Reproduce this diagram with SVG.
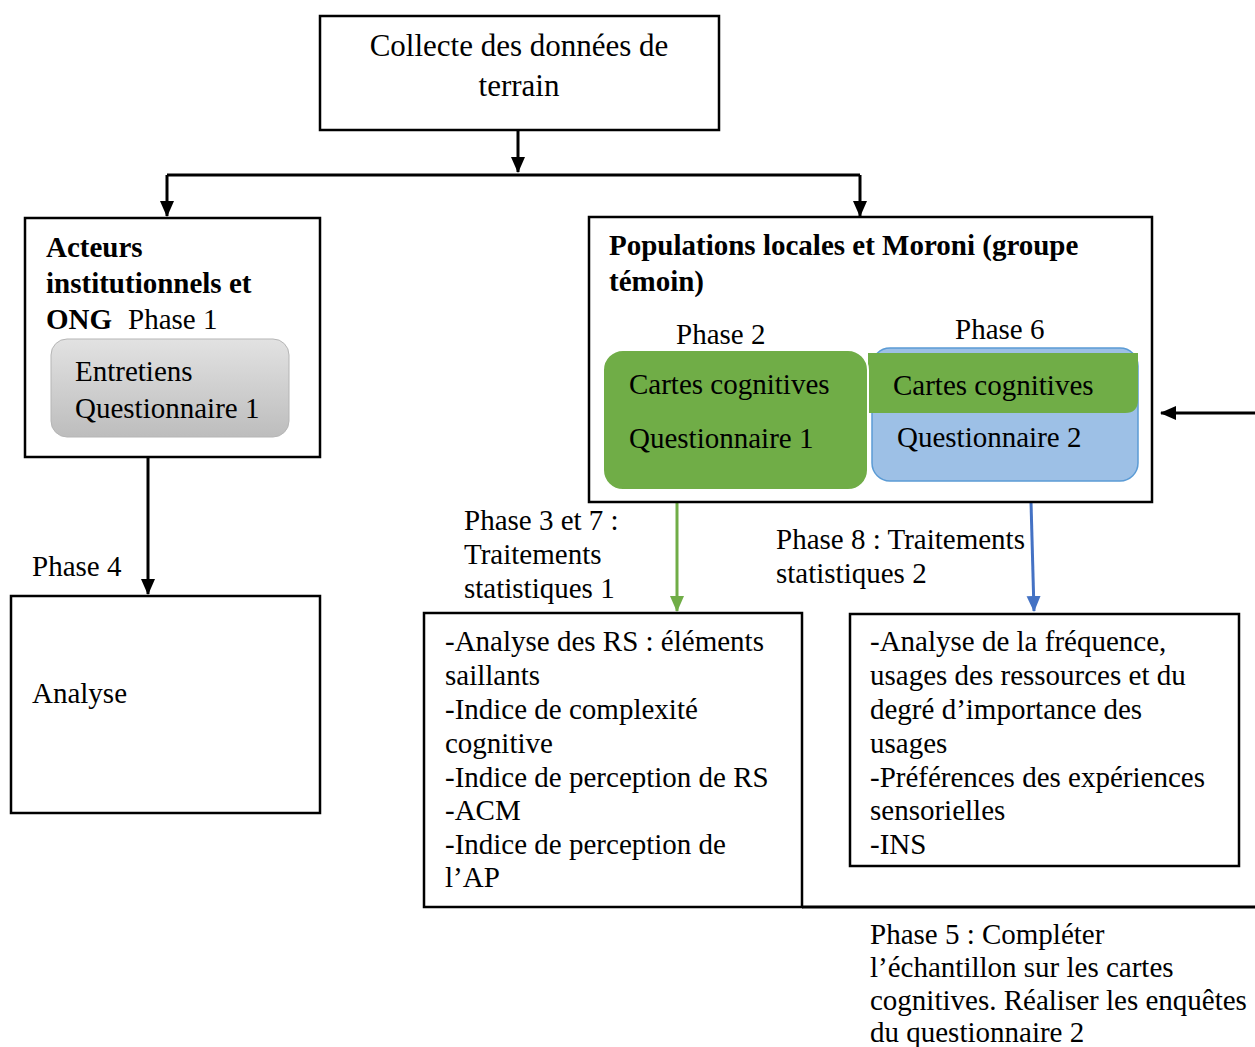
<svg xmlns="http://www.w3.org/2000/svg" width="1255" height="1047" viewBox="0 0 1255 1047">
<defs>
<style>
text{font-family:"Liberation Serif","Times New Roman",serif;font-size:29px;fill:#000}
.b{font-weight:bold}
.box{fill:#fff;stroke:#000;stroke-width:2.5}
.ln{fill:none;stroke:#000;stroke-width:3}
</style>
<marker id="ak" markerUnits="userSpaceOnUse" markerWidth="16" markerHeight="16" refX="15" refY="8" orient="auto"><path d="M0,1 L16,8 L0,15 Z" fill="#000"/></marker>
<marker id="ag" markerUnits="userSpaceOnUse" markerWidth="16" markerHeight="16" refX="15" refY="8" orient="auto"><path d="M0,1 L16,8 L0,15 Z" fill="#70AD47"/></marker>
<marker id="ab" markerUnits="userSpaceOnUse" markerWidth="16" markerHeight="16" refX="15" refY="8" orient="auto"><path d="M0,1 L16,8 L0,15 Z" fill="#4472C4"/></marker>
<linearGradient id="gray" x1="0" y1="0" x2="0" y2="1"><stop offset="0" stop-color="#e2e2e2"/><stop offset="1" stop-color="#bdbdbd"/></linearGradient>
</defs>
<rect width="1255" height="1047" fill="#fff"/>

<g id="connectors">
<path class="ln" d="M518,131 V172" marker-end="url(#ak)"/>
<path class="ln" d="M167,175 H860"/>
<path class="ln" d="M167,175 V216" marker-end="url(#ak)"/>
<path class="ln" d="M860,175 V216" marker-end="url(#ak)"/>
<path class="ln" d="M148,457 V594" marker-end="url(#ak)"/>
<path fill="none" stroke="#70AD47" stroke-width="3" d="M677,502 V611" marker-end="url(#ag)"/>
<path fill="none" stroke="#4472C4" stroke-width="3" d="M1031,502 L1034,611" marker-end="url(#ab)"/>
<path class="ln" d="M802,907 H1255"/>
<path class="ln" d="M1255,413 H1161" marker-end="url(#ak)"/>
<text x="464" y="530">Phase 3 et 7 :</text>
<text x="464" y="564">Traitements</text>
<text x="464" y="598">statistiques 1</text>
<text x="776" y="549">Phase 8 : Traitements</text>
<text x="776" y="583">statistiques 2</text>
<text x="32" y="576">Phase 4</text>
<text x="870" y="944">Phase 5 : Compléter</text>
<text x="870" y="977">l’échantillon sur les cartes</text>
<text x="870" y="1010">cognitives. Réaliser les enquêtes</text>
<text x="870" y="1042">du questionnaire 2</text>
</g>

<g id="collecte">
<rect class="box" x="320" y="16" width="399" height="114"/>
<text x="519" y="56" text-anchor="middle" style="font-size:31px">Collecte des données de</text>
<text x="519" y="96" text-anchor="middle" style="font-size:31px">terrain</text>
</g>

<g id="acteurs">
<rect class="box" x="25" y="218" width="295" height="239"/>
<text class="b" x="46" y="257">Acteurs</text>
<text class="b" x="46" y="293">institutionnels et</text>
<text x="46" y="329"><tspan class="b">ONG</tspan><tspan x="128">Phase 1</tspan></text>
<rect x="51" y="339" width="238" height="98" rx="16" fill="url(#gray)" stroke="#b5b5b5" stroke-width="1"/>
<text x="75" y="381">Entretiens</text>
<text x="75" y="418">Questionnaire 1</text>
</g>

<g id="analyse">
<rect class="box" x="11" y="596" width="309" height="217"/>
<text x="32" y="703">Analyse</text>
</g>

<g id="populations">
<rect class="box" x="589" y="217" width="563" height="285"/>
<text class="b" x="609" y="255">Populations locales et Moroni (groupe</text>
<text class="b" x="609" y="291">témoin)</text>
<text x="676" y="344">Phase 2</text>
<text x="955" y="339">Phase 6</text>
<rect x="872" y="348" width="266" height="133" rx="18" fill="#9DC0E6" stroke="#5B9BD5" stroke-width="1.5"/>
<path d="M868,353 H1138 V400 Q1138,413 1125,413 H868 Z" fill="#70AD47"/>
<rect x="603" y="350" width="265" height="140" rx="20" fill="#70AD47" stroke="#fff" stroke-width="2"/>
<text x="629" y="394">Cartes cognitives</text>
<text x="629" y="448">Questionnaire 1</text>
<text x="893" y="395">Cartes cognitives</text>
<text x="897" y="447">Questionnaire 2</text>
</g>

<g id="stats1">
<rect class="box" x="424" y="613" width="378" height="294"/>
<text x="445" y="651">-Analyse des RS : éléments</text>
<text x="445" y="685">saillants</text>
<text x="445" y="719">-Indice de complexité</text>
<text x="445" y="753">cognitive</text>
<text x="445" y="787">-Indice de perception de RS</text>
<text x="445" y="820">-ACM</text>
<text x="445" y="854">-Indice de perception de</text>
<text x="445" y="887">l’AP</text>
</g>

<g id="stats2">
<rect class="box" x="850" y="614" width="389" height="252"/>
<text x="870" y="651">-Analyse de la fréquence,</text>
<text x="870" y="685">usages des ressources et du</text>
<text x="870" y="719">degré d’importance des</text>
<text x="870" y="753">usages</text>
<text x="870" y="787">-Préférences des expériences</text>
<text x="870" y="820">sensorielles</text>
<text x="870" y="854">-INS</text>
</g>
</svg>
